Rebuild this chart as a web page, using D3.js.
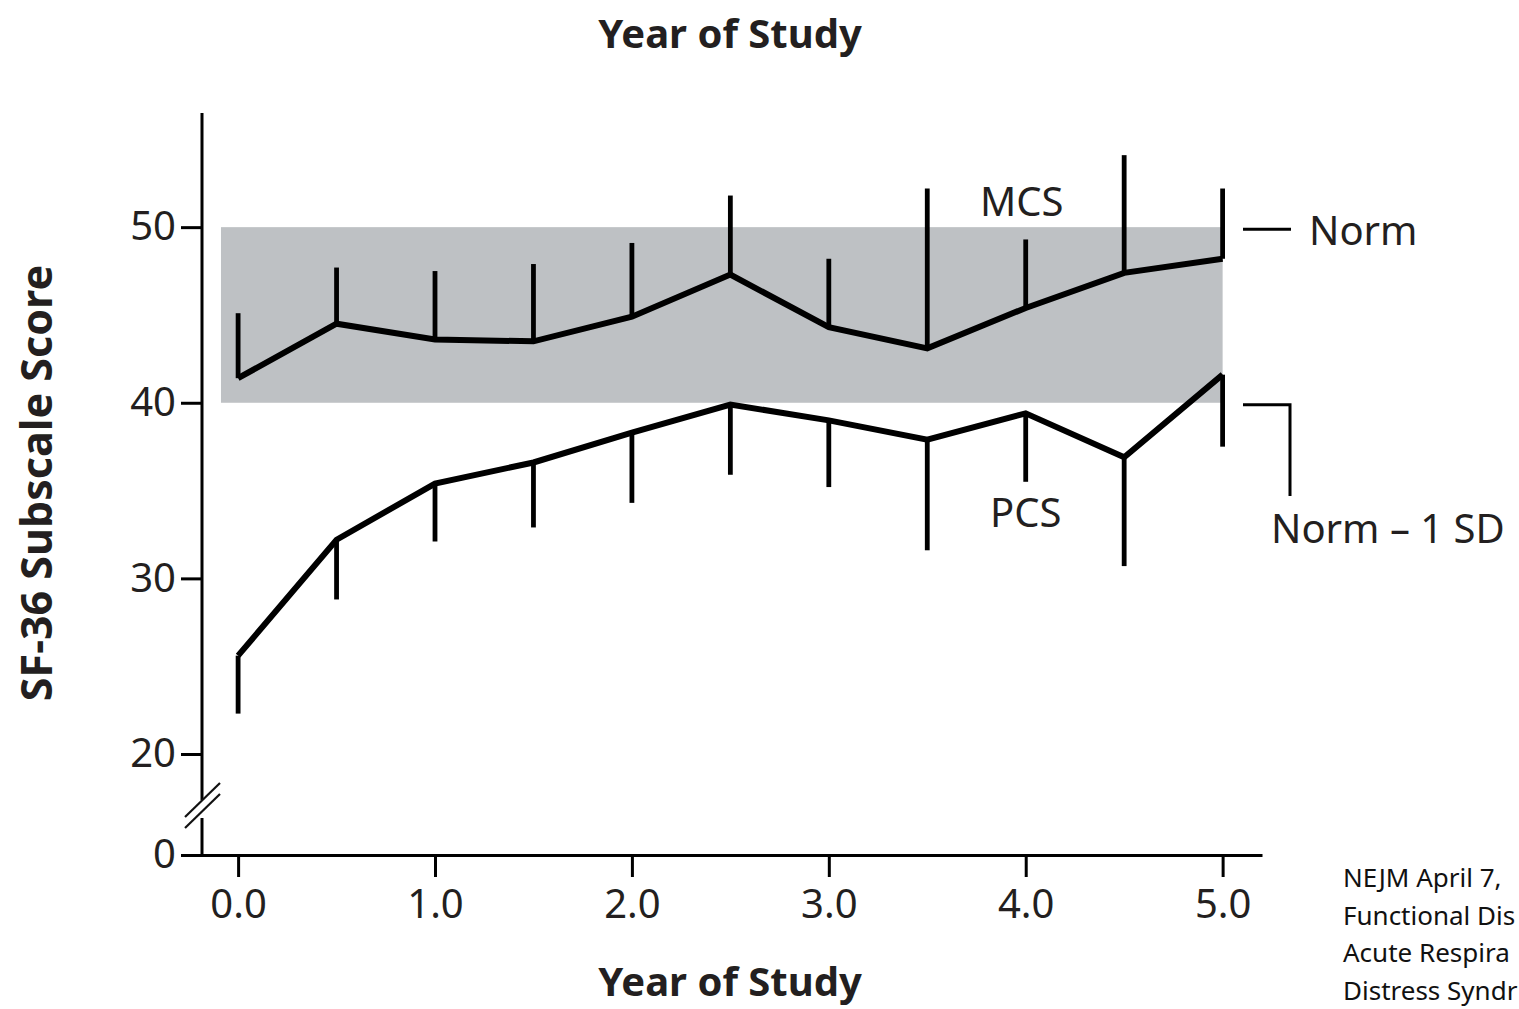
<!DOCTYPE html>
<html>
<head>
<meta charset="utf-8">
<script src="https://cdn.jsdelivr.net/npm/d3@7"></script>
<style>
    body { margin: 0; background: #fff; }
    svg { display: block; }
    text { font-family: "Noto Sans", "Open Sans", sans-serif; fill: #231f20; }
    .axis-title { font-weight: bold; font-size: 40px; }
    .tick text { font-size: 40px; }
    .note { font-size: 26px; fill: #111; }
</style>
</head>
<body>
<div id="chart"></div>
<script>
// values
const years = [0, 0.5, 1, 1.5, 2, 2.5, 3, 3.5, 4, 4.5, 5];
const mcsMean = [41.4, 44.5, 43.6, 43.5, 44.9, 47.3, 44.3, 43.1, 45.4, 47.4, 48.2];
const mcsUpper = [45.1, 47.7, 47.5, 47.9, 49.1, 51.8, 48.2, 52.2, 49.3, 54.1, 52.2];
const pcsMean = [25.6, 32.2, 35.4, 36.6, 38.3, 39.9, 39.0, 37.9, 39.4, 36.9, 41.6];
const pcsLower = [22.3, 28.8, 32.1, 32.9, 34.3, 35.9, 35.2, 31.6, 35.5, 30.7, 37.5];
const normBand = [40, 50];
const xTicks = [0, 1, 2, 3, 4, 5];
const yTicks = [0, 20, 30, 40, 50];
// the citation runs off the right edge of the source image; only the visible part is kept
const noteLines = ["NEJM April 7,", "Functional Dis", "Acute Respira", "Distress Syndr"];

const width = 1519, height = 1009;

const svg = d3.select("#chart").append("svg")
    .attr("width", width)
    .attr("height", height);

const x = d3.scaleLinear()
    .domain([-0.29, 5.2])
    .range([181, 1262]);

// broken axis: 0 sits just below 20
const y = d3.scaleLinear()
    .domain([0, 20, 56.5])
    .range([855, 754, 113]);

const ax = 202; // where the y axis stands

// norm band
svg.append("rect")
    .attr("x", x(-0.087))
    .attr("width", x(5) - x(-0.087))
    .attr("y", y(normBand[1]))
    .attr("height", y(normBand[0]) - y(normBand[1]))
    .attr("fill", "#bec1c4");

// axes
const xAxis = svg.append("g")
    .attr("transform", `translate(0,${y(0)})`)
    .call(d3.axisBottom(x).tickValues(xTicks).tickFormat(d3.format(".1f"))
        .tickSize(22).tickSizeOuter(0).tickPadding(13));

const yAxis = svg.append("g")
    .attr("transform", `translate(${ax},0)`)
    .call(d3.axisLeft(y).tickValues(yTicks).tickSize(21).tickPadding(5));

xAxis.select(".domain").attr("stroke-width", 3);
yAxis.select(".domain").remove();
svg.selectAll(".tick line").attr("stroke-width", 3);
svg.selectAll(".tick text").attr("fill", "#231f20");

// y axis line drawn in two pieces with the break marks
svg.append("line")
    .attr("x1", ax).attr("x2", ax)
    .attr("y1", y(56.5)).attr("y2", 800)
    .attr("stroke", "#000").attr("stroke-width", 3);
svg.append("line")
    .attr("x1", ax).attr("x2", ax)
    .attr("y1", 818).attr("y2", y(0) + 1.5)
    .attr("stroke", "#000").attr("stroke-width", 3);
[0, 11].forEach(off => {
    svg.append("line")
        .attr("x1", ax - 17).attr("y1", 817 + off)
        .attr("x2", ax + 18).attr("y2", 783 + off)
        .attr("stroke", "#111").attr("stroke-width", 2.2);
});

const line = d3.line()
    .x(d => x(d[0]))
    .y(d => y(d[1]));

// error bars
svg.append("g")
    .selectAll("line")
    .data(years)
    .enter().append("line")
    .attr("x1", d => x(d)).attr("x2", d => x(d))
    .attr("y1", (d, i) => y(mcsMean[i]))
    .attr("y2", (d, i) => y(mcsUpper[i]))
    .attr("stroke", "#000")
    .attr("stroke-width", 4.8);

svg.append("g")
    .selectAll("line")
    .data(years)
    .enter().append("line")
    .attr("x1", d => x(d)).attr("x2", d => x(d))
    .attr("y1", (d, i) => y(pcsMean[i]))
    .attr("y2", (d, i) => y(pcsLower[i]))
    .attr("stroke", "#000")
    .attr("stroke-width", 4.8);

svg.append("path")
    .datum(years.map((d, i) => [d, mcsMean[i]]))
    .attr("d", line)
    .attr("fill", "none")
    .attr("stroke", "#000")
    .attr("stroke-width", 6)
    .attr("stroke-linejoin", "miter");

svg.append("path")
    .datum(years.map((d, i) => [d, pcsMean[i]]))
    .attr("d", line)
    .attr("fill", "none")
    .attr("stroke", "#000")
    .attr("stroke-width", 6)
    .attr("stroke-linejoin", "miter");

// series labels
svg.append("text")
    .attr("x", x(3.98)).attr("y", 216)
    .attr("text-anchor", "middle")
    .style("font-size", "40px")
    .text("MCS");

svg.append("text")
    .attr("x", x(4.0)).attr("y", 527)
    .attr("text-anchor", "middle")
    .style("font-size", "40px")
    .text("PCS");

// norm markers at the right
svg.append("line")
    .attr("x1", 1243).attr("x2", 1291)
    .attr("y1", y(normBand[1]) + 2).attr("y2", y(normBand[1]) + 2)
    .attr("stroke", "#000").attr("stroke-width", 3);

svg.append("text")
    .attr("x", 1309).attr("y", y(normBand[1]) + 18)
    .style("font-size", "40px")
    .text("Norm");

svg.append("path")
    .attr("d", `M1243,${y(normBand[0]) + 2}H1290V496`)
    .attr("fill", "none")
    .attr("stroke", "#000").attr("stroke-width", 3);

svg.append("text")
    .attr("x", 1271).attr("y", 543)
    .style("font-size", "40px")
    .text("Norm \u2013 1 SD");

// titles
svg.append("text")
    .attr("class", "axis-title")
    .attr("x", 730).attr("y", 48)
    .attr("text-anchor", "middle")
    .text("Year of Study");

svg.append("text")
    .attr("class", "axis-title")
    .attr("x", 730).attr("y", 996)
    .attr("text-anchor", "middle")
    .text("Year of Study");

svg.append("text")
    .attr("class", "axis-title")
    .attr("transform", "translate(52,483) rotate(-90)")
    .attr("text-anchor", "middle")
    .style("font-size", "43px")
    .text("SF-36 Subscale Score");

// citation note
svg.append("g")
    .selectAll("text")
    .data(noteLines)
    .enter().append("text")
    .attr("class", "note")
    .attr("x", 1343)
    .attr("y", (d, i) => 887 + i * 37.5)
    .text(d => d);
</script>
</body>
</html>
